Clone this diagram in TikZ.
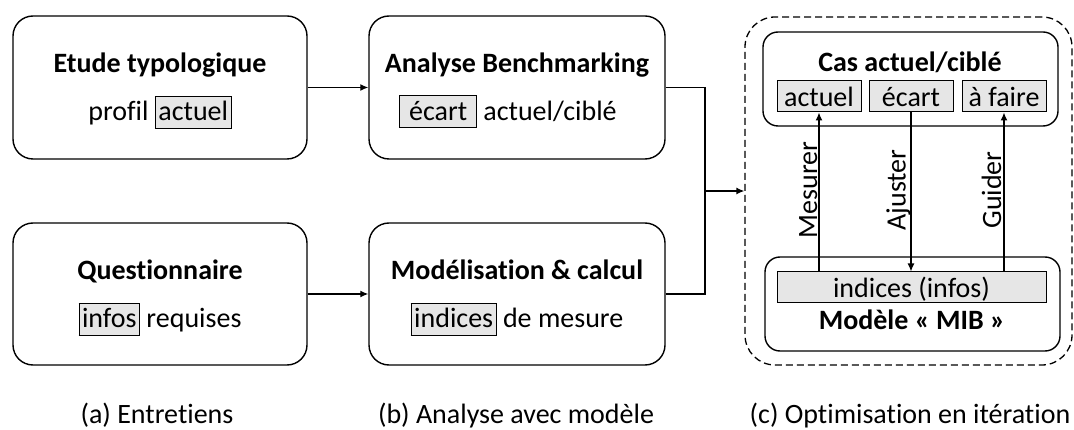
\documentclass[tikz,border=0pt]{standalone}
\usepackage{fontspec}
\setmainfont{Carlito}[Ligatures=NoCommon]
\usetikzlibrary{arrows.meta}
\definecolor{hlgray}{HTML}{E6E6E6}
\newcommand{\hlbox}[1]{{\setlength{\fboxsep}{2.5pt}\setlength{\fboxrule}{1pt}\fcolorbox{black}{hlgray}{\rule[-4.5pt]{0pt}{26pt}#1}}}
\begin{document}
\begin{tikzpicture}[x=1pt,y=-1pt,
  font=\fontsize{28}{34}\selectfont,
  bigbox/.style={draw,line width=1.4pt,rounded corners=20pt,minimum width=294pt,minimum height=143pt,inner sep=0pt},
  innerbox/.style={draw,line width=1.4pt,rounded corners=15pt,minimum width=295pt,minimum height=94pt,inner sep=0pt},
  subbox/.style={draw,line width=1pt,fill=hlgray,inner sep=0pt,minimum height=31pt,text height=20pt,text depth=0pt},
  ttl/.style={font=\fontsize{28}{34}\selectfont\bfseries,anchor=base,inner sep=0pt},
  txt/.style={anchor=base,inner sep=0pt},
  conn/.style={line width=1.3pt},
  arr/.style={line width=1.3pt,-{Latex[length=8pt,width=7pt]}},
  vlab/.style={rotate=90,anchor=south,inner sep=0.5pt}]
\useasboundingbox (0,0) rectangle (1074,430);

% (a) column
\node[bigbox] (etude) at (160,87.5) {};
\node[ttl] (etudeT) at (160,72.5) {Etude typologique};
\node[txt] (etudeB) at (160,121) {profil \hlbox{actuel}};
\node[bigbox,minimum height=142pt] (quest) at (160,294) {};
\node[ttl] (questT) at (160,279.5) {Questionnaire};
\node[txt] (questB) at (160,328) {\hlbox{infos} requises};

% (b) column
\node[bigbox,minimum width=296pt] (bench) at (517,87.5) {};
\node[ttl] (benchT) at (517,72.5) {Analyse Benchmarking};
\node[txt] (benchB) at (508,120.5) {\hlbox{~écart~} actuel/ciblé};
\node[bigbox,minimum width=296pt,minimum height=142pt] (model) at (517,294) {};
\node[ttl] (modelT) at (517,279.5) {Modélisation \& calcul};
\node[txt] (modelB) at (517,328) {\hlbox{indices} de mesure};

% (c) column
\node[draw,line width=1.3pt,dash pattern=on 7pt off 4pt,rounded corners=30pt,minimum width=327pt,minimum height=348pt,inner sep=0pt] (iter) at (908.5,191) {};
\node[innerbox] (cas) at (910.5,79) {};
\node[ttl] (casT) at (910,71.5) {Cas actuel/ciblé};
\node[subbox,minimum width=84pt] (sA) at (819,96.5) {actuel};
\node[subbox,minimum width=84pt] (sE) at (911,96.5) {écart};
\node[subbox,minimum width=84pt] (sF) at (1004,96.5) {à faire};
\node[innerbox] (mib) at (912.5,304) {};
\node[subbox,minimum width=269pt] (ind) at (911.5,287.5) {indices (infos)};
\node[ttl] (mibT) at (912,330) {Modèle « MIB »};

\draw[arr] (ind.north -| sA.south) -- (sA.south);
\draw[arr] (sE.south) -- (sE.south |- ind.north);
\draw[arr] (ind.north -| sF.south) -- (sF.south);
\node[vlab] (mes) at (818,190) {Mesurer};
\node[vlab] (aju) at (911,190) {Ajuster};
\node[vlab] (gui) at (1002,190) {Guider};

% connectors
\coordinate (j) at (705,191);
\draw[arr] (etude.east) -- (bench.west);
\draw[arr] (quest.east) -- (model.west);
\draw[conn] (bench.east) -| (j);
\draw[conn] (model.east) -| (j);
\draw[arr] (j) -- (iter.west);

% captions
\node[txt] (capA) at (157,423) {(a) Entretiens};
\node[txt] (capB) at (516,423) {(b) Analyse avec modèle};
\node[txt] (capC) at (910,423) {(c) Optimisation en itération};
\end{tikzpicture}
\end{document}
